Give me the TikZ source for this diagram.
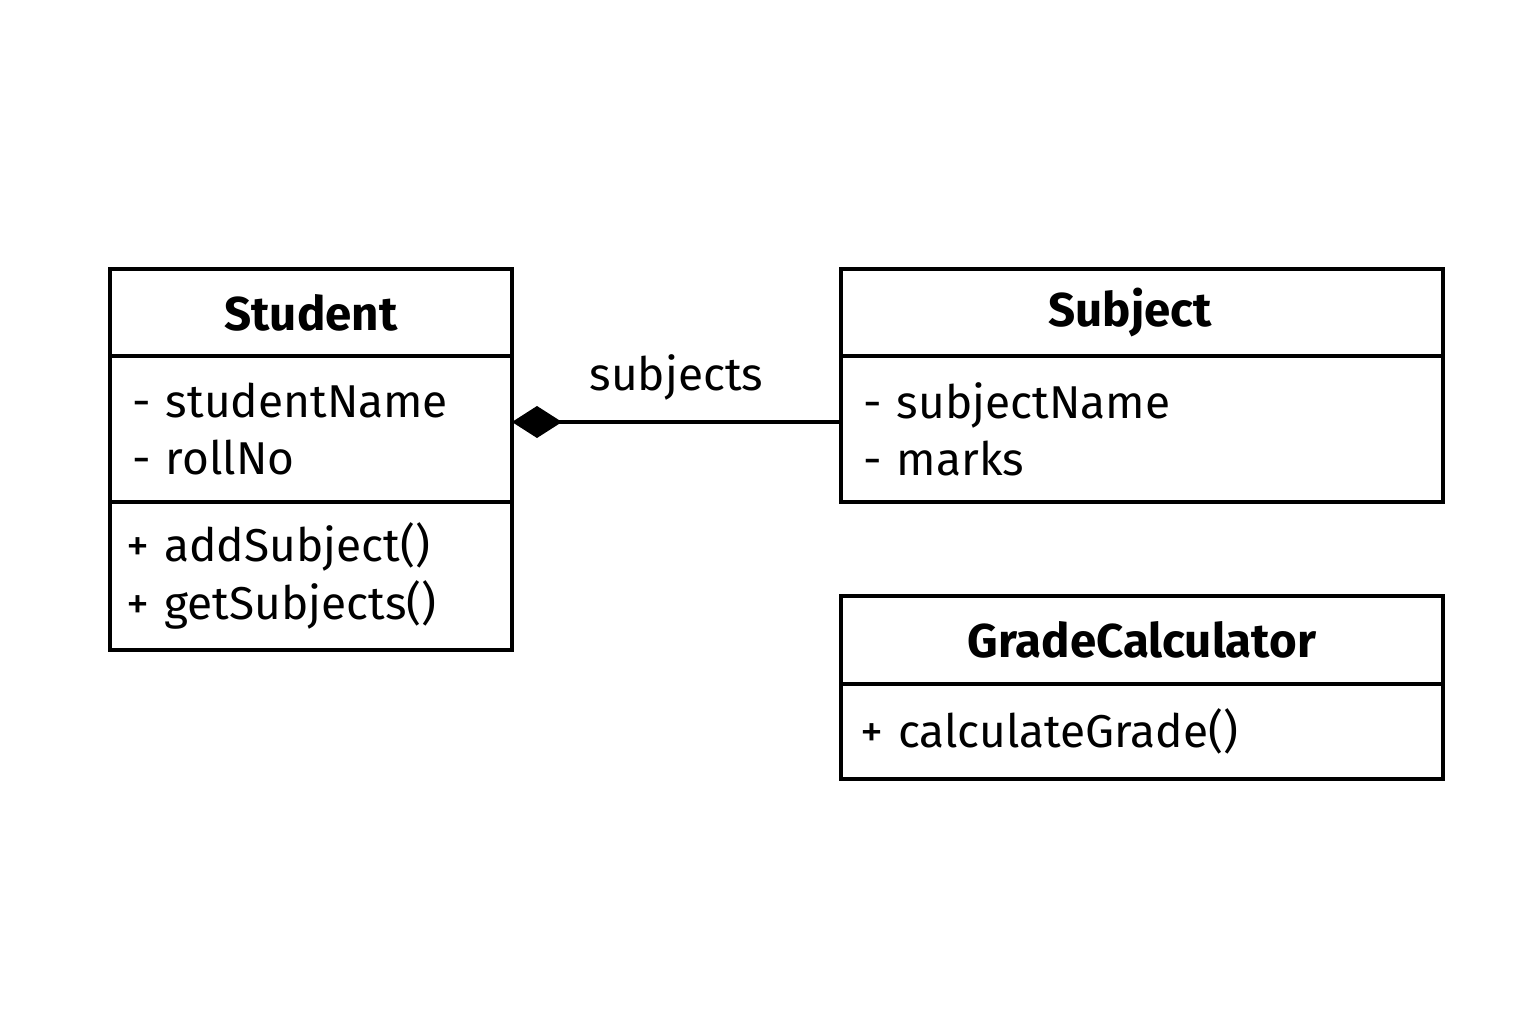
\documentclass[tikz,border=0pt]{standalone}
\usepackage{fontspec}
\setmainfont{Fira Sans}
\usetikzlibrary{arrows.meta}
\usetikzlibrary{positioning}

\tikzset{
    box/.style={draw, line width=1.1pt, outer sep=0pt, inner xsep=0.22cm, inner ysep=0pt,
                font=\fontsize{13.1}{16.3}\selectfont},
    head/.style={box, align=center, font=\fontsize{13.5}{16.4}\selectfont\bfseries},
    part/.style={box, align=left},
}

\begin{document}
\begin{tikzpicture}
    \useasboundingbox (0,0) rectangle (15.36,10.24);

        % Student
        \node[head, text width=3.58cm, minimum height=0.87cm, anchor=north west] (stuHead) at (1.10,7.55) {Student};
        \node[part, text width=3.58cm, minimum height=1.46cm, below=0pt of stuHead] (stuAttr) {- studentName\\- rollNo};
        \node[part, text width=3.70cm, inner xsep=0.16cm, minimum height=1.48cm, below=0pt of stuAttr] (stuOps) {+ addSubject()\\+ getSubjects()};

        % Subject
        \node[head, text width=5.58cm, minimum height=0.87cm, anchor=north west] (subHead) at (8.41,7.55) {\hspace*{-0.24cm}Subject};
        \node[part, text width=5.58cm, minimum height=1.46cm, below=0pt of subHead] (subAttr) {- subjectName\\- marks};

        % GradeCalculator
        \node[head, text width=5.58cm, minimum height=0.88cm, anchor=north west] (gradeHead) at (8.41,4.28) {GradeCalculator};
        \node[part, text width=5.64cm, inner xsep=0.19cm, minimum height=0.95cm, below=0pt of gradeHead] (gradeOps) {+ calculateGrade()};

        \draw[line width=1.1pt, -{Diamond[length=0.5cm, width=0.32cm]}]
            ([yshift=0.07cm]subAttr.west) -- node[above=0.2cm, inner sep=0pt, font=\fontsize{13.1}{16.3}\selectfont] {subjects}
            ([yshift=0.07cm]stuAttr.east);
\end{tikzpicture}
\end{document}
